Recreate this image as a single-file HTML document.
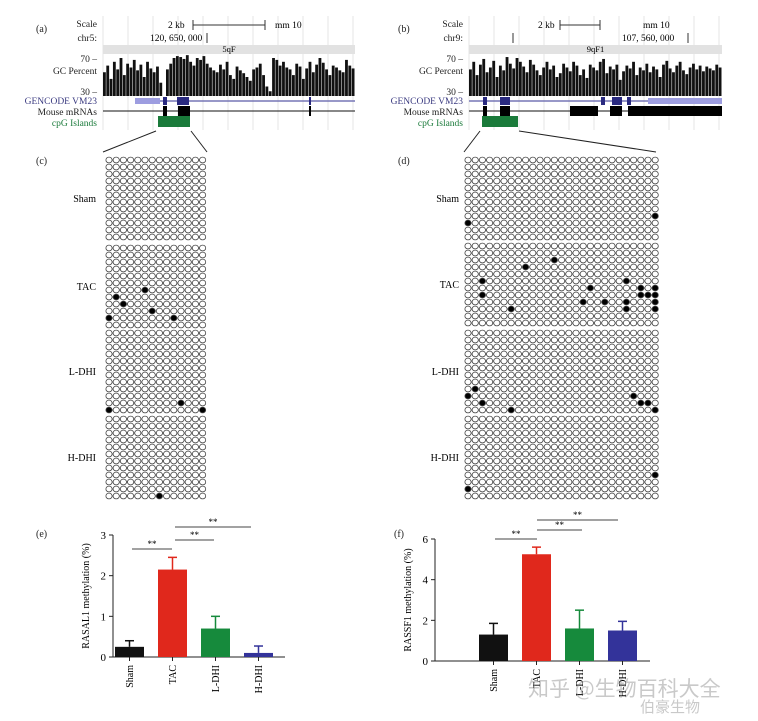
<!DOCTYPE html>
<html><head><meta charset="utf-8"><style>
body{margin:0;background:#fff}
svg{font-family:"Liberation Serif",serif}
</style></head><body>
<svg id="s" width="758" height="716" viewBox="0 0 758 716" xmlns="http://www.w3.org/2000/svg">
<g font-size="10" fill="#222">
<text x="36" y="32">(a)</text><text x="398" y="32">(b)</text>
<text x="36" y="164">(c)</text><text x="398" y="164">(d)</text>
<text x="36" y="537">(e)</text><text x="394" y="537">(f)</text>
</g>
<g id="browsers"></g>
<g id="grids"></g>
<g id="charts"></g>
<g opacity="0.45" fill="#888" font-family="'Noto Sans CJK SC',sans-serif">
<text x="528" y="696" font-size="21">知乎 @生物百科大全</text>
<text x="640" y="712" font-size="15">伯豪生物</text>
</g>
</svg>
<script>
const NS="http://www.w3.org/2000/svg";
function el(t,a,p){const e=document.createElementNS(NS,t);for(const k in a)e.setAttribute(k,a[k]);(p||document.getElementById('s')).appendChild(e);return e;}
// GC percent values
const gcLeft=[55,62,48,66,58,70,52,64,60,68,57,63,50,66,59,55,61,44,30,58,64,70,72,71,69,73,66,62,70,68,72,64,60,57,55,63,58,66,52,48,61,57,54,50,46,58,60,64,52,40,35,70,68,62,66,60,58,52,64,61,48,59,66,55,63,70,65,58,52,62,60,57,55,68,62,59];
const gcRight=[58,66,52,63,69,55,60,67,50,62,57,71,64,59,70,66,61,55,68,63,57,52,60,66,58,62,50,54,64,60,56,66,62,52,58,49,63,60,57,66,69,54,61,58,63,47,56,62,59,66,52,60,57,64,55,61,58,50,63,67,59,55,62,66,57,53,60,64,58,62,56,61,59,57,63,60];
function browser(x0,x1,cfg){
  const g=el('g',{},document.getElementById('browsers'));
  for(let x=x0;x<=x1;x+=25){el('line',{x1:x,x2:x,y1:16,y2:130,stroke:'#e6e6e6','stroke-width':1},g);}
  const L=[['Scale',27,'#222'],[cfg.chr,41,'#222'],['70 –',62,'#222'],['GC Percent',74,'#222'],['30 –',95,'#222'],['GENCODE VM23',104,'#3a3a80'],['Mouse mRNAs',115,'#222'],['cpG Islands',126,'#1a7a3a']];
  L.forEach(r=>{const t=el('text',{x:x0-6,y:r[1],'text-anchor':'end','font-size':9.5,fill:r[2]},g);t.textContent=r[0];});
  let t=el('text',{x:cfg.kb,y:28,'font-size':9.5},g);t.textContent='2 kb';
  el('line',{x1:cfg.bar[0],x2:cfg.bar[1],y1:25,y2:25,stroke:'#333'},g);
  cfg.bar.forEach(b=>el('line',{x1:b,x2:b,y1:20,y2:30,stroke:'#333'},g));
  t=el('text',{x:cfg.mm,y:28,'font-size':9.5},g);t.textContent='mm 10';
  t=el('text',{x:cfg.pos[0],y:41,'font-size':9.5},g);t.textContent=cfg.pos[1];
  el('line',{x1:cfg.pos[2],x2:cfg.pos[2],y1:33,y2:43,stroke:'#333'},g);
  el('rect',{x:x0,y:45,width:x1-x0,height:9,fill:'#e2e2e2'},g);
  t=el('text',{x:(x0+x1)/2,y:52,'font-size':8.5,'text-anchor':'middle'},g);t.textContent=cfg.band;
  const vals=cfg.gc,w=(x1-x0)/vals.length;
  vals.forEach((v,i)=>{const y=96-(v-30)/40*38;const r=el('rect',{x:x0+i*w,y:y,width:w*0.85,height:96-y,fill:'#111'},g);});
  el('line',{x1:cfg.genLine[0],x2:x1,y1:101,y2:101,stroke:'#5b5ba8','stroke-width':1.2},g);
  cfg.genLight.forEach(b=>el('rect',{x:b[0],y:98,width:b[1]-b[0],height:6,fill:'#9d9de0'},g));
  cfg.genDark.forEach(b=>el('rect',{x:b[0],y:97,width:b[1]-b[0],height:8,fill:'#2a2a80'},g));
  el('line',{x1:x0,x2:x1,y1:111,y2:111,stroke:'#111','stroke-width':1},g);
  cfg.mrna.forEach(b=>el('rect',{x:b[0],y:106,width:b[1]-b[0],height:10,fill:'#000'},g));
  const c=el('rect',{x:cfg.cpg[0],y:116,width:cfg.cpg[1]-cfg.cpg[0],height:11,fill:'#1a7a3a'},g);
  el('line',{x1:cfg.cpg[0]-2,y1:131,x2:cfg.zoom[0],y2:152,stroke:'#222'},g);
  el('line',{x1:cfg.cpg[1]+1,y1:131,x2:cfg.zoom[1],y2:152,stroke:'#222'},g);
}
browser(103,355,{name:'browser-chr5',chr:'chr5:',kb:168,bar:[193,265],mm:275,pos:[150,'120, 650, 000',207],band:'5qF',gc:gcLeft,genLine:[135],genLight:[[135,160]],genDark:[[163,167],[177,189],[309,311]],mrna:[[163,167],[178,190],[309,311]],cpg:[158,190],zoom:[103,207]});
browser(469,722,{name:'browser-chr9',chr:'chr9:',kb:538,bar:[560,600],mm:643,pos:[622,'107, 560, 000',688],band:'9qF1',gc:gcRight,genLine:[469],genLight:[[648,722]],genDark:[[483,487],[500,510],[601,605],[612,622],[627,631]],mrna:[[483,487],[500,510],[570,598],[610,622],[628,722]],cpg:[482,518],zoom:[464,656]});
el('line',{x1:513,x2:513,y1:33,y2:43,stroke:'#333'},document.getElementById('browsers'));
// methylation grids
const groupNames=['Sham','TAC','L-DHI','H-DHI'];
const filledLeft=[[],[[6,5],[7,1],[8,2],[9,6],[10,0],[10,9]],[[10,10],[11,0],[11,13]],[[11,7]]];
const filledRight=[[[8,26],[9,0]],[[2,12],[3,8],[5,2],[5,22],[6,17],[6,24],[6,26],[7,2],[7,24],[7,25],[7,26],[8,16],[8,19],[8,22],[8,26],[9,6],[9,22],[9,26]],[[8,1],[9,0],[9,23],[10,2],[10,24],[10,25],[11,6],[11,26]],[[8,26],[10,0]]];
function grid(x0,ncol,starts,filled,labx,name){
  const g=el('g',{},document.getElementById('grids'));
  const p=7.2;
  starts.forEach((y0,gi)=>{
    const t=el('text',{x:labx,y:y0+42,'font-size':10,'text-anchor':'end'},g);t.textContent=groupNames[gi];
    for(let r=0;r<12;r++){const y=y0+r*7;
      el('line',{x1:x0,x2:x0+(ncol-1)*p,y1:y,y2:y,stroke:'#444','stroke-width':0.9},g);
      for(let c=0;c<ncol;c++){
        const f=filled[gi].some(q=>q[0]===r&&q[1]===c);
        const e=el('ellipse',{cx:x0+c*p,cy:y,rx:3.1,ry:2.9,fill:f?'#000':'#fff',stroke:'#444','stroke-width':0.8},g);
        
      }}
  });
}
grid(109,14,[160,248,333,419],filledLeft,96,'grid-rasal1');
grid(468,27,[160,246,333,419],filledRight,459,'grid-rassf1');
// bar charts
const cats=['Sham','TAC','L-DHI','H-DHI'];
const colors=['#111','#e0281c','#168a3c','#33339a'];
const eVals=[0.25,2.15,0.7,0.1];
const eErr=[0.15,0.3,0.3,0.17];
const eTicks=[0,1,2,3];
const fVals=[1.3,5.25,1.6,1.5];
const fErr=[0.55,0.35,0.9,0.45];
const fTicks=[0,2,4,6];
function chart(cfg){
  const g=el('g',{},document.getElementById('charts'));
  const ys=v=>cfg.y0-(v/cfg.max)*(cfg.y0-cfg.yTop);
  el('line',{x1:cfg.ax,x2:cfg.ax,y1:cfg.yTop,y2:cfg.y0,stroke:'#222'},g);
  el('line',{x1:cfg.ax,x2:cfg.axEnd,y1:cfg.y0,y2:cfg.y0,stroke:'#222'},g);
  cfg.ticks.forEach(v=>{el('line',{x1:cfg.ax-4,x2:cfg.ax,y1:ys(v),y2:ys(v),stroke:'#222'},g);
    const t=el('text',{x:cfg.ax-7,y:ys(v)+4,'font-size':11,'text-anchor':'end'},g);t.textContent=v;});
  const t=el('text',{transform:`translate(${cfg.ax-24},${(cfg.y0+cfg.yTop)/2}) rotate(-90)`,'font-size':10,'text-anchor':'middle'},g);t.textContent=cfg.title;
  const bx=i=>cfg.b0+i*cfg.step;
  cats.forEach((c,i)=>{
    const x=bx(i),v=cfg.vals[i],e=cfg.err[i];
    const r=el('rect',{x:x,y:ys(v),width:29,height:cfg.y0-ys(v),fill:colors[i]},g);
    
    el('line',{x1:x+14.5,x2:x+14.5,y1:ys(v),y2:ys(v+e),stroke:colors[i],'stroke-width':1.5},g);
    el('line',{x1:x+10,x2:x+19,y1:ys(v+e),y2:ys(v+e),stroke:colors[i],'stroke-width':1.5},g);
    el('line',{x1:x+14.5,x2:x+14.5,y1:cfg.y0,y2:cfg.y0+4,stroke:'#222'},g);
    const l=el('text',{transform:`translate(${x+18},${cfg.y0+8}) rotate(-90)`,'font-size':10,'text-anchor':'end'},g);l.textContent=c;
  });
  cfg.sig.forEach(s=>{el('line',{x1:s[0],x2:s[1],y1:s[2],y2:s[2],stroke:'#444'},g);
    const q=el('text',{x:(s[0]+s[1])/2,y:s[2]-2,'font-size':9,'text-anchor':'middle'},g);q.textContent='**';});
}
chart({name:'chart-rasal1',vals:eVals,err:eErr,ticks:eTicks,max:3,y0:657,yTop:535,ax:113,axEnd:285,b0:115,step:43,title:'RASAL1 methylation (%)',sig:[[132,172,549],[175,214,540],[175,251,527]]});
chart({name:'chart-rassf1',vals:fVals,err:fErr,ticks:fTicks,max:6,y0:661,yTop:539,ax:435,axEnd:650,b0:479,step:43,title:'RASSF1 methylation (%)',sig:[[495,537,539],[537,582,530],[537,618,520]]});
</script>
</body></html>
